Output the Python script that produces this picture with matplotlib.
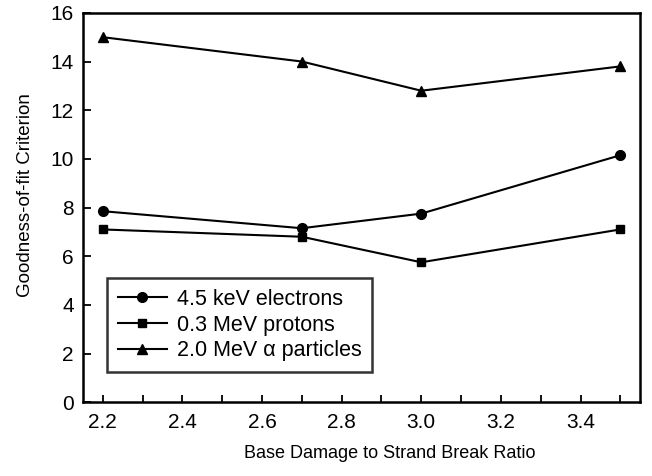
import matplotlib
matplotlib.use('Agg')
import matplotlib.pyplot as plt
from matplotlib.ticker import MultipleLocator

plt.rcParams['font.family'] = ['Liberation Sans', 'DejaVu Sans']

ratio = [2.2, 2.7, 3.0, 3.5]
electrons = [7.85, 7.15, 7.75, 10.15]
protons = [7.1, 6.8, 5.75, 7.1]
alphas = [15.0, 14.0, 12.8, 13.8]

fig = plt.figure(figsize=(6.52, 4.76), dpi=100)
ax = fig.add_axes([0.127, 0.155, 0.855, 0.818])

ax.plot(ratio, electrons, color='black', lw=1.5, marker='o', ms=7, label='4.5 keV electrons')
ax.plot(ratio, protons, color='black', lw=1.5, marker='s', ms=6, label='0.3 MeV protons')
ax.plot(ratio, alphas, color='black', lw=1.5, marker='^', ms=7, label='2.0 MeV α particles')

ax.set_xlim(2.15, 3.55)
ax.set_ylim(0, 16)
ax.xaxis.set_major_locator(MultipleLocator(0.2))
ax.xaxis.set_minor_locator(MultipleLocator(0.1))
ax.yaxis.set_major_locator(MultipleLocator(2))
ax.xaxis.set_major_formatter(plt.FormatStrFormatter('%.1f'))
ax.tick_params(axis='both', which='both', direction='in', labelsize=15, width=1.3, color='black')
ax.tick_params(axis='y', which='major', length=6, pad=6.5)
ax.tick_params(axis='x', which='major', length=5, pad=8)
ax.tick_params(axis='x', which='minor', length=5)
for s in ax.spines.values():
    s.set_linewidth(1.8)

ax.set_xlabel('Base Damage to Strand Break Ratio', fontsize=13)
ax.xaxis.set_label_coords(0.55, -0.11)
ax.set_ylabel('Goodness-of-fit Criterion', fontsize=13.5)
ax.yaxis.set_label_coords(-0.088, 0.533)

leg = ax.legend(loc='lower left', bbox_to_anchor=(0.043, 0.077), borderaxespad=0,
                fontsize=15.5, frameon=True, fancybox=False, edgecolor='black',
                handlelength=2.3, handletextpad=0.45, labelspacing=0.22, borderpad=0.5)
leg.get_frame().set_linewidth(1.8)

fig.savefig('out.png', dpi=100)
